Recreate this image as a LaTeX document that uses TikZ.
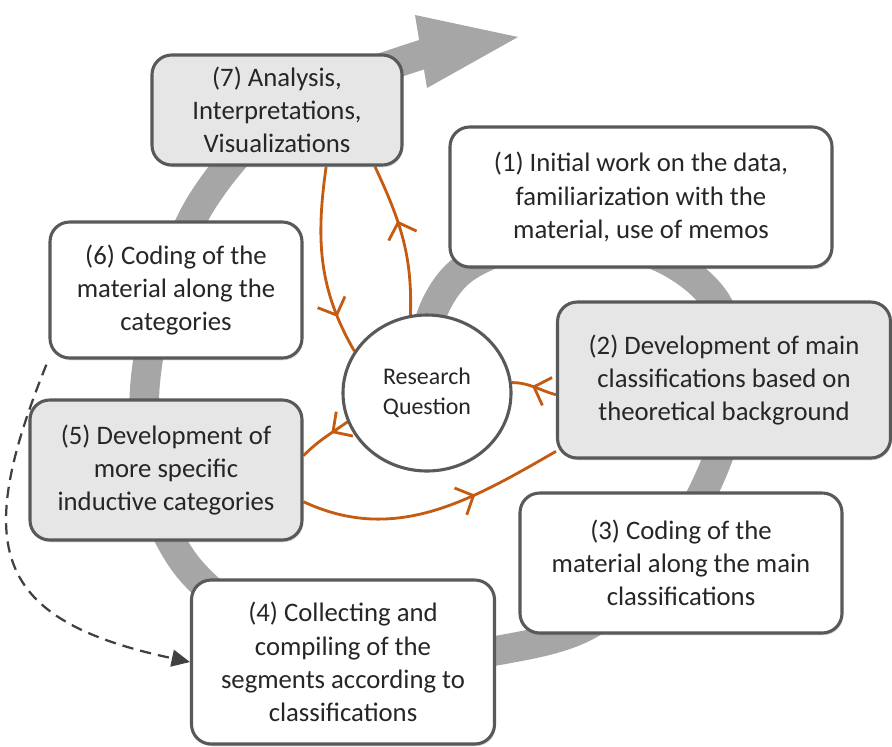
\documentclass[tikz,border=0pt]{standalone}
\usepackage{fontspec}
\setmainfont{Carlito}
\usetikzlibrary{arrows.meta,shadows,shapes.geometric,decorations.markings}

\definecolor{bandgray}{HTML}{A6A6A6}
\definecolor{boxgray}{HTML}{E7E6E6}
\definecolor{rimgray}{HTML}{595959}
\definecolor{rust}{HTML}{C55A11}
\def\pxl{0.025cm}

\pgfdeclarelayer{background}
\pgfsetlayers{background,main}

\tikzset{
  stagebox/.style 2 args={draw=rimgray, line width=2.2pt, rounded corners=14pt,
    fill=white, align=center, inner sep=0pt, text=black!85,
    font=\fontsize{19}{23.6}\selectfont,
    minimum width=#1*\pxl, minimum height=#2*\pxl,
    drop shadow={opacity=0.3, shadow xshift=0.8pt, shadow yshift=-1.6pt}},
  graybox/.style={fill=boxgray},
  question/.style={ellipse, draw=rimgray, line width=2.2pt, fill=white,
    align=center, inner sep=0pt, text=black!85,
    font=\fontsize{17}{21}\selectfont,
    minimum width=168*\pxl, minimum height=156*\pxl},
  band/.style={draw=bandgray, line width=21pt},
  feedback/.style={color=rust, line width=2pt, postaction=decorate,
    decoration={markings, mark=at position #1 with {\arrow{Straight Barb[length=10pt,width=21pt]}}}},
  recheck/.style={color=black!75, line width=1.6pt, dash pattern=on 8pt off 5pt,
    -{Triangle[length=13pt,width=12pt]}}
}

\begin{document}
\begin{tikzpicture}[x=0.025cm, y=-0.025cm]
\useasboundingbox (0,0) rectangle (892,746);

\node[stagebox={250}{110}, graybox] (an) at (277,110) {(7) Analysis,\\Interpretations,\\Visualizations};
\node[stagebox={382}{140}] (one) at (641,197) {(1) Initial work on the data,\\familiarization with the\\material, use of memos};
\node[stagebox={252}{136}] (six) at (176,290) {(6) Coding of the\\material along the\\categories};
\node[stagebox={333}{156}, graybox] (two) at (724,380) {(2) Development of main\\classifications based on\\theoretical background};
\node[stagebox={272}{140}, graybox] (five) at (166,470) {(5) Development of\\more specific\\inductive categories};
\node[stagebox={322}{140}] (three) at (681,563) {(3) Coding of the\\material along the main\\classifications};
\node[stagebox={303}{164}] (four) at (343,662) {(4) Collecting and\\compiling of the\\segments according to\\classifications};
\node[question] (rq) at (427,393) {Research\\Question};

\begin{pgfonlayer}{background}
% spiral of the process
\draw[band] plot[smooth, tension=0.55] coordinates {(428,380) (430,320) (460,272) (520,245)
  (600,240) (670,262) (718,305) (735,380) (715,465) (665,555) (590,624) (500,650) (380,662)
  (265,628) (192,572) (155,505) (145,440) (146,375) (162,295) (200,205) (262,130) (340,84)
  (424,54)};
\fill[bandgray] (415,15) -- (518,37) -- (427,88) -- cycle;
% links to the research question
\draw[feedback=0.62] (rq.102) to[out=88, in=-65] (an.-30);
\draw[feedback=0.8] (an.-49) to[out=-98, in=120] (rq.150);
\draw[feedback=0.55] (two.185) to[out=165, in=0] (rq.7);
\draw[feedback=0.35] (rq.200) to[out=215, in=45] (five.6);
\draw[feedback=0.66] (five.-13) to[out=-25, in=210] (two.203);
\end{pgfonlayer}

\draw[recheck, shorten <=4pt] (six.south west) to[out=-112, in=168, looseness=1.55] (four.west);
\end{tikzpicture}
\end{document}
